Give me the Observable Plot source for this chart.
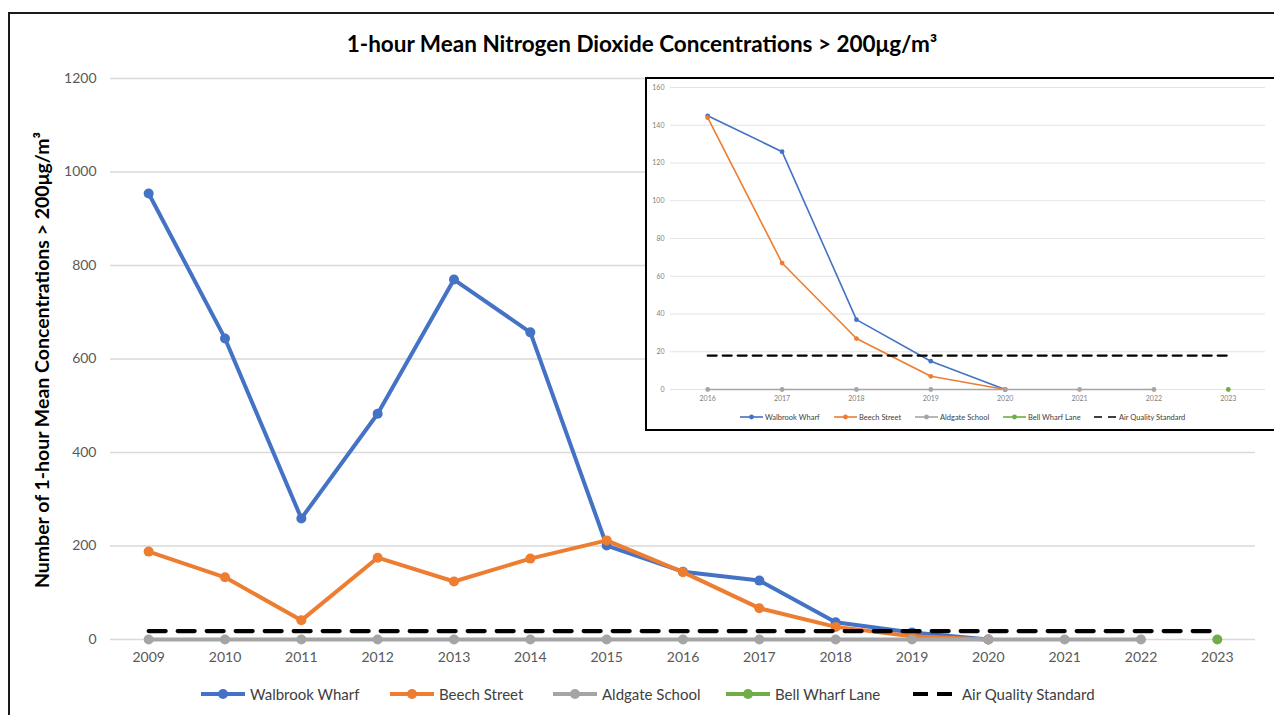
<!DOCTYPE html>
<html>
<head>
<meta charset="utf-8">
<script src="https://cdn.jsdelivr.net/npm/d3@7"></script>
<script src="https://cdn.jsdelivr.net/npm/@observablehq/plot@0.6"></script>
<style>
  html, body { margin: 0; padding: 0; background: #fff; }
  #root { position: relative; width: 1274px; height: 715px; overflow: hidden; font-family: Lato, "Open Sans", sans-serif; }
  .abs { position: absolute; }
  #frame { left: 8px; top: 12px; width: 1400px; height: 900px; border: 2px solid #1a1a1a; box-sizing: border-box; pointer-events: none; }
  #title { left: 0; width: 1284px; top: 30px; text-align: center; font-weight: 700; font-size: 22.5px; color: #000; }
  #ylabel { left: 41px; top: 360px; transform: translate(-50%, -50%) rotate(-90deg); white-space: nowrap; font-weight: 700; font-size: 19.5px; color: #000; }
  #insetBox { left: 645px; top: 77px; width: 700px; height: 354px; border: 2px solid #000; box-sizing: border-box; background: #fff; }
  .leg { position: absolute; display: flex; align-items: center; white-space: nowrap; color: #404040; }
  .leg svg { display: block; }
</style>
</head>
<body>
<div id="root">
  <div id="main" class="abs" style="left:0;top:0"></div>
  <div id="frame" class="abs"></div>
  <div id="title" class="abs">1-hour Mean Nitrogen Dioxide Concentrations &gt; 200μg/m³</div>
  <div id="ylabel" class="abs">Number of 1-hour Mean Concentrations &gt; 200μg/m³</div>
  <div id="insetBox" class="abs"></div>
  <div id="inset" class="abs" style="left:647px;top:79px"></div>
  <div id="legendMain"></div>
  <div id="legendInset"></div>
</div>
<script>
// ---- Data ----
const years = [2009, 2010, 2011, 2012, 2013, 2014, 2015, 2016, 2017, 2018, 2019, 2020, 2021, 2022, 2023];
const walbrookWharf = [954, 644, 259, 483, 770, 657, 201, 145, 126, 37, 15, 0, null, null, null];
const beechStreet   = [188, 133, 41, 175, 124, 173, 212, 144, 67, 27, 7, 0, null, null, null];
const aldgateSchool = [0, 0, 0, 0, 0, 0, 0, 0, 0, 0, 0, 0, 0, 0, null];
const bellWharfLane = [null, null, null, null, null, null, null, null, null, null, null, null, null, null, 0];
const airQualityStandard = [18, 18, 18, 18, 18, 18, 18, 18, 18, 18, 18, 18, 18, 18, 18];
const seriesNames = ["Walbrook Wharf", "Beech Street", "Aldgate School", "Bell Wharf Lane", "Air Quality Standard"];
const yTicksMain = [0, 200, 400, 600, 800, 1000, 1200];
const yTicksInset = [0, 20, 40, 60, 80, 100, 120, 140, 160];
const insetYears = [2016, 2017, 2018, 2019, 2020, 2021, 2022, 2023];

const colors = {
  "Walbrook Wharf": "#4472c4",
  "Beech Street": "#ed7d31",
  "Aldgate School": "#a5a5a5",
  "Bell Wharf Lane": "#70ad47",
  "Air Quality Standard": "#000000"
};

function rows(values, minYear = 0) {
  return years.map((year, i) => ({year, value: values[i]}))
    .filter(d => d.value != null && d.year >= minYear);
}
const seriesValues = [walbrookWharf, beechStreet, aldgateSchool, bellWharfLane];

function seriesMarks(minYear, lw, r, dash, dashW) {
  const marks = [];
  seriesValues.forEach((vals, i) => {
    const name = seriesNames[i];
    const data = rows(vals, minYear);
    marks.push(Plot.line(data, {x: "year", y: "value", stroke: colors[name], strokeWidth: lw}));
    marks.push(Plot.dot(data, {x: "year", y: "value", r, fill: colors[name]}));
  });
  marks.push(Plot.line(rows(airQualityStandard, minYear), {
    x: "year", y: "value", stroke: "#000", strokeWidth: dashW, strokeDasharray: dash
  }));
  return marks;
}

// ---- Main chart ----
const main = Plot.plot({
  width: 1274, height: 715,
  marginTop: 78, marginBottom: 76, marginLeft: 110, marginRight: 19,
  style: {fontFamily: "Lato, 'Open Sans', sans-serif", background: "transparent"},
  x: {type: "linear", domain: [2008.5, 2023.5], axis: null},
  y: {domain: [0, 1200], axis: null},
  marks: [
    Plot.ruleY(yTicksMain, {stroke: "#d9d9d9", strokeWidth: 1.4}),
    ...seriesMarks(0, 4, 5, "17,12", 4.2),
    Plot.text(yTicksMain, {y: d => d, text: d => String(d), frameAnchor: "left", dx: -14, textAnchor: "end", fontSize: 14, fill: "#595959"}),
    Plot.text(years, {x: d => d, text: d => String(d), frameAnchor: "bottom", dy: 22, fontSize: 14, fill: "#595959"})
  ]
});
document.getElementById("main").appendChild(main);

// ---- Inset chart ----
const inset = Plot.plot({
  width: 627, height: 348,
  marginTop: 8, marginBottom: 38, marginLeft: 23, marginRight: 9,
  style: {fontFamily: "Lato, 'Open Sans', sans-serif", background: "transparent"},
  x: {type: "linear", domain: [2015.5, 2023.5], axis: null},
  y: {domain: [0, 160], axis: null},
  marks: [
    Plot.ruleY(yTicksInset, {stroke: "#e3e3e3", strokeWidth: 1}),
    ...seriesMarks(2016, 1.6, 2.4, "9,6", 2.2),
    Plot.text(yTicksInset, {y: d => d, text: d => String(d), frameAnchor: "left", dx: -6, textAnchor: "end", fontSize: 7, fill: "#7f7f7f"}),
    Plot.text(insetYears, {x: d => d, text: d => String(d), frameAnchor: "bottom", dy: 11, fontSize: 7, fill: "#7f7f7f"})
  ]
});
document.getElementById("inset").appendChild(inset);

// ---- Legends ----
function sample(name, w, h, lw, r, dash) {
  const c = colors[name];
  if (name === "Air Quality Standard") {
    return `<svg width="${w}" height="${h}"><line x1="0" x2="${w}" y1="${h/2}" y2="${h/2}" stroke="#000" stroke-width="${lw}" stroke-dasharray="${dash}"/></svg>`;
  }
  return `<svg width="${w}" height="${h}"><line x1="0" x2="${w}" y1="${h/2}" y2="${h/2}" stroke="${c}" stroke-width="${lw}"/><circle cx="${w/2}" cy="${h/2}" r="${r}" fill="${c}"/></svg>`;
}
function buildLegend(id, items, top, fontSize, w, h, lw, r, dash, gap) {
  const el = document.getElementById(id);
  items.forEach(([name, left]) => {
    const d = document.createElement("div");
    d.className = "leg";
    d.style.left = left + "px";
    d.style.top = (top - h / 2) + "px";
    d.style.height = h + "px";
    d.style.fontSize = fontSize + "px";
    d.innerHTML = sample(name, w, h, lw, r, dash) + `<span style="margin-left:${gap}px">${name}</span>`;
    el.appendChild(d);
  });
}
buildLegend("legendMain", [
  [seriesNames[0], 201], [seriesNames[1], 390], [seriesNames[2], 553], [seriesNames[3], 726], [seriesNames[4], 913]
], 694, 15, 44, 14, 4, 5, "15,9", 5);
buildLegend("legendInset", [
  [seriesNames[0], 740], [seriesNames[1], 834], [seriesNames[2], 915], [seriesNames[3], 1003], [seriesNames[4], 1094]
], 417, 7.5, 23, 8, 1.6, 2.4, "8,6", 2);
</script>
</body>
</html>
